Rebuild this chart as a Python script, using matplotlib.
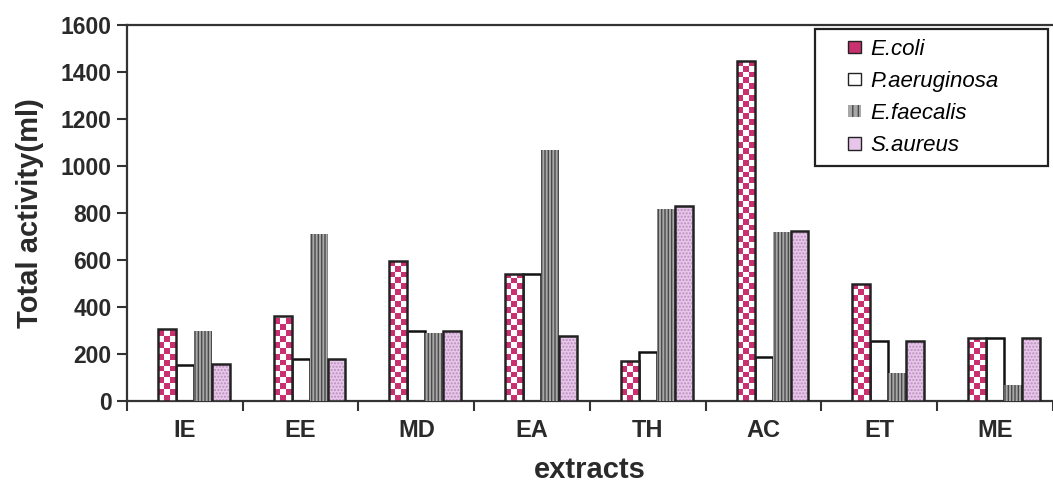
import numpy as np
import matplotlib
matplotlib.use('Agg')
import matplotlib.pyplot as plt
from matplotlib.colors import ListedColormap
from matplotlib.patches import Patch, Rectangle
from matplotlib.legend_handler import HandlerPatch

plt.rcParams['font.family'] = ['Liberation Sans', 'DejaVu Sans']

extracts = ['IE', 'EE', 'MD', 'EA', 'TH', 'AC', 'ET', 'ME']
e_coli = [305, 360, 595, 540, 170, 1445, 500, 270]
p_aeruginosa = [155, 180, 300, 540, 210, 187, 255, 270]
e_faecalis = [300, 710, 290, 1070, 815, 718, 120, 68]
s_aureus = [157, 180, 300, 278, 830, 725, 255, 270]

pink = '#c9306f'
lilac = '#e8c6ea'
grey = '#a8a8a8'

fig = plt.figure(figsize=(10.53, 4.88), dpi=100)
ax = fig.add_axes([0.1206, 0.178, 1 - 0.1206, 0.771])

x = np.arange(len(extracts))
w = 0.155

# P. aeruginosa first, the others are drawn over it
ax.bar(x, p_aeruginosa, w, color='white', edgecolor='#111111', linewidth=1.8, zorder=2)

# E. coli: pink checkerboard clipped to each bar
bars = ax.bar(x - w, e_coli, w, color='none', linewidth=0, zorder=2.5)
cmap = ListedColormap(['white', pink])
for b in bars:
    x0, h = b.get_x(), b.get_height()
    ny = max(1, int(round(h / 25)))
    checker = np.indices((ny, 3)).sum(axis=0) % 2
    im = ax.imshow(checker, cmap=cmap, extent=[x0, x0 + w, 0, ny * 25],
                   aspect='auto', interpolation='nearest', origin='lower', zorder=3)
    im.set_clip_path(b)
ax.bar(x - w, e_coli, w, fill=False, edgecolor='#222222', linewidth=1.8, zorder=5)

# E. faecalis: grey vertical stripes, no outline
ax.bar(x + w, e_faecalis, w, color=grey, edgecolor='#4a4a4a', hatch='|||||',
       linewidth=0, zorder=4)

# S. aureus: lilac stipple with black outline
ax.bar(x + 2 * w, s_aureus, w, color=lilac, edgecolor='#b98fbd', hatch='.....',
       linewidth=0, zorder=4)
ax.bar(x + 2 * w, s_aureus, w, fill=False, edgecolor='#222222', linewidth=1.8, zorder=5)

ax.set_xlim(-0.5, (1053 - 128) / 117 - 0.5)
ax.set_ylim(0, 1600)
ax.set_yticks(np.arange(0, 1601, 200))
ax.set_xticks(x)
ax.set_xticklabels(extracts)
ax.set_xticks(np.arange(len(extracts) + 1) - 0.5, minor=True)
ax.tick_params(axis='x', which='major', length=0, pad=13, labelsize=17, labelcolor='#2a2a2a')
ax.tick_params(axis='x', which='minor', length=7, width=1.5, direction='out', color='#333333')
ax.tick_params(axis='y', length=7, width=1.5, direction='out', labelsize=16.5, pad=4,
               labelcolor='#2a2a2a', color='#333333')
for lab in ax.get_xticklabels() + ax.get_yticklabels():
    lab.set_fontweight('bold')

for s in ['left', 'bottom', 'top']:
    ax.spines[s].set_linewidth(1.6)
    ax.spines[s].set_color('#333333')
ax.spines['right'].set_visible(False)

ax.set_xlabel('extracts', fontsize=21, fontweight='bold', color='#2a2a2a', labelpad=10)
ax.set_ylabel('Total activity(ml)', fontsize=21, fontweight='bold', color='#2a2a2a', labelpad=12)


def small_square(legend, orig_handle, xdescent, ydescent, width, height, fontsize):
    side = 0.55 * fontsize
    return Rectangle((width - side - xdescent, (height - side) / 2 - ydescent), side, side)


handles = [
    Patch(facecolor=pink, edgecolor='#222222', label='E.coli'),
    Patch(facecolor='white', edgecolor='#222222', label='P.aeruginosa'),
    Patch(facecolor=grey, edgecolor='#4a4a4a', hatch='|||', linewidth=0, label='E.faecalis'),
    Patch(facecolor=lilac, edgecolor='#222222', label='S.aureus'),
]
hm = {h: HandlerPatch(patch_func=small_square) for h in handles}
leg = ax.legend(handles=handles, handler_map=hm, loc='upper left', mode='expand',
                bbox_to_anchor=((815 - 127) / 926, 0, 233 / 926, (401 - 29) / 376),
                borderaxespad=0, fancybox=False, edgecolor='#222222', framealpha=1,
                prop={'style': 'italic', 'size': 16}, handlelength=1.6,
                handletextpad=0.45, borderpad=0.45, labelspacing=0.5)
leg.get_frame().set_linewidth(1.6)

fig.savefig('out.png', dpi=100)
